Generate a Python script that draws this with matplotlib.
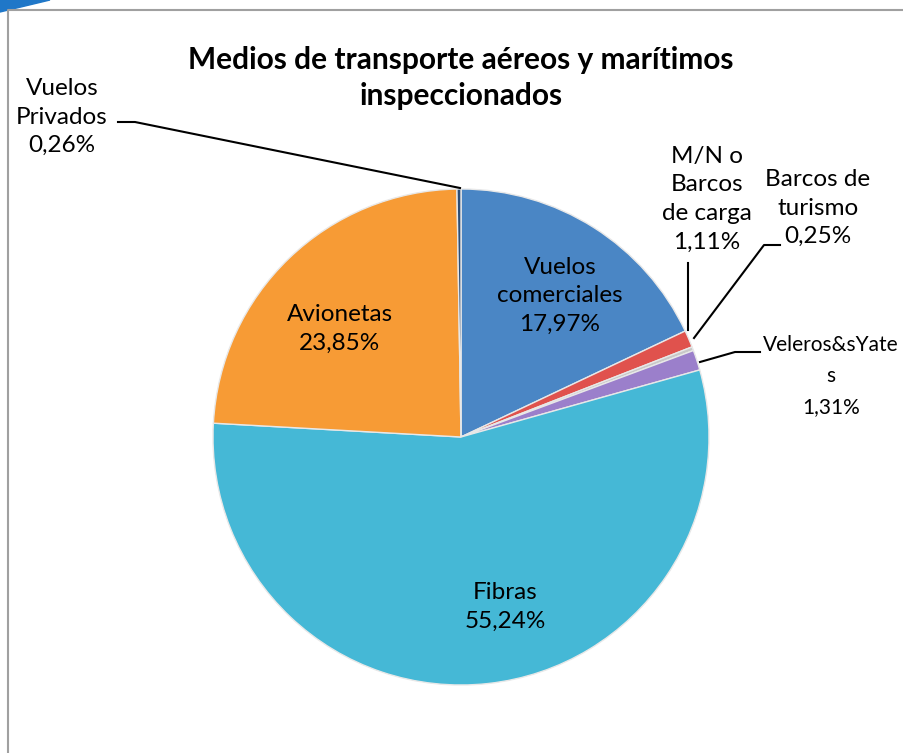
import matplotlib
matplotlib.use('Agg')
import matplotlib.pyplot as plt
from matplotlib.patches import Polygon

plt.rcParams['font.family'] = ['Lato', 'DejaVu Sans']

categorias = ['Vuelos comerciales', 'M/N o Barcos de carga', 'Barcos de turismo',
              'Veleros&sYates', 'Fibras', 'Avionetas', 'Vuelos Privados']
valores = [17.97, 1.11, 0.25, 1.31, 55.24, 23.85, 0.26]
etiquetas = ['Vuelos\ncomerciales', 'M/N o\nBarcos\nde carga', 'Barcos de\nturismo',
             'Veleros&sYate\ns', 'Fibras', 'Avionetas', 'Vuelos\nPrivados']
colores = ['#4A86C5', '#E0524D', '#C8C8C8', '#9B7FCB', '#45B8D6', '#F79B35', '#2C4D75']

W, H = 904, 753
fig = plt.figure(figsize=(W / 100, H / 100), dpi=100)
ax = fig.add_axes([0, 0, 1, 1])

# marco del grafico
ax.plot([8, 8, W], [0, H - 10, H - 10], color='#A0A0A0', lw=1.5, solid_capstyle='butt')
ax.add_patch(Polygon([[0, H], [50, H], [0, H - 12]], closed=True, color='#1F77C8'))

cx, cy, r = 461, H - 437, 248
wedges, _ = ax.pie(valores, colors=colores, startangle=90, counterclock=False,
                   center=(cx, cy), radius=r, frame=True,
                   wedgeprops=dict(edgecolor='#E8E8E8', linewidth=1))
ax.set_xlim(0, W)
ax.set_ylim(0, H)
ax.set_aspect('equal')
ax.axis('off')

fs = 17.5
txt = dict(ha='center', va='center', fontsize=fs, color='black', linespacing=1.45)

def lab(i):
    return etiquetas[i] + '\n' + f'{valores[i]:.2f}'.replace('.', ',') + '%'

ax.text(560, H - 296, lab(0), **txt)
ax.text(707, H - 199, lab(1), **txt)
ax.text(818, H - 208, lab(2), **txt)
ax.text(831, H - 376, lab(3), **dict(txt, fontsize=15, linespacing=1.7))
ax.text(505, H - 607, lab(4), **txt)
ax.text(340, H - 329, lab(5), **txt)
ax.text(62, H - 117, lab(6), **txt)

# lineas guia
lk = dict(color='black', lw=1.5)
ax.plot([118, 135, 460], [H - 122, H - 122, H - 188], **lk)
ax.plot([688, 688], [H - 263, H - 330], **lk)
ax.plot([780, 764, 694], [H - 245, H - 245, H - 338], **lk)
ax.plot([760, 735, 700], [H - 352, H - 352, H - 362], **lk)

ax.text(461, H - 78, 'Medios de transporte aéreos y marítimos\ninspeccionados',
        ha='center', va='center', fontsize=21.5, fontweight='bold', linespacing=1.35)

fig.savefig('out.png', dpi=100)
